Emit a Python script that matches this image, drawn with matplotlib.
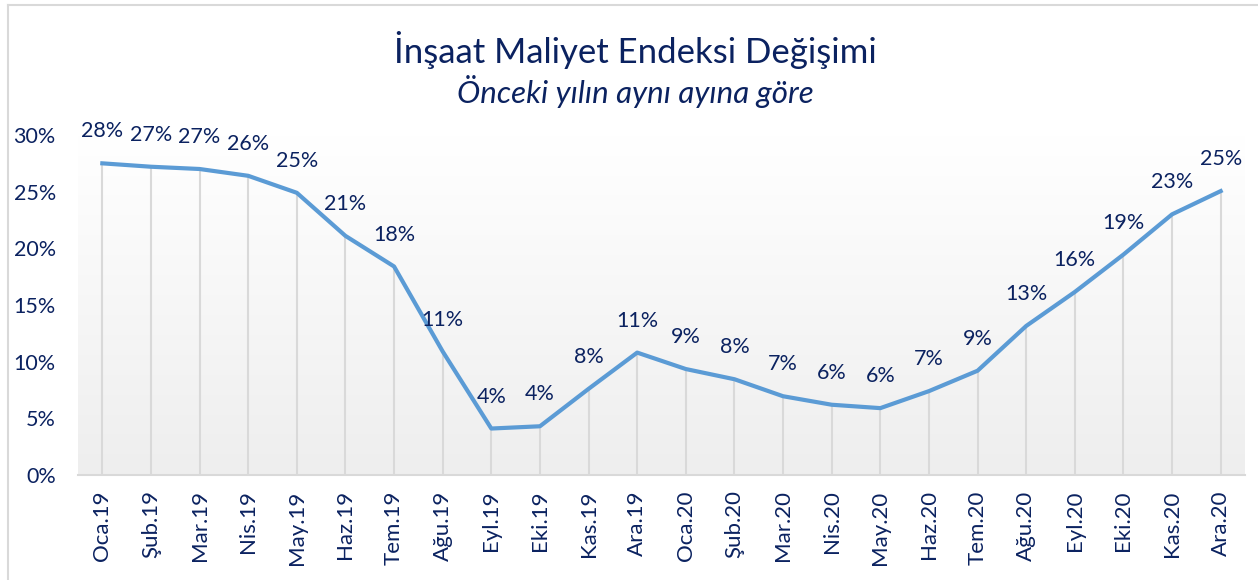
import numpy as np
import matplotlib
matplotlib.use('Agg')
import matplotlib.pyplot as plt
from matplotlib.lines import Line2D

months = ['Oca.19', 'Şub.19', 'Mar.19', 'Nis.19', 'May.19', 'Haz.19', 'Tem.19', 'Ağu.19',
          'Eyl.19', 'Eki.19', 'Kas.19', 'Ara.19', 'Oca.20', 'Şub.20', 'Mar.20', 'Nis.20',
          'May.20', 'Haz.20', 'Tem.20', 'Ağu.20', 'Eyl.20', 'Eki.20', 'Kas.20', 'Ara.20']
change = [27.5, 27.2, 27.0, 26.4, 24.9, 21.1, 18.4, 10.9,
          4.1, 4.3, 7.6, 10.8, 9.35, 8.45, 6.95, 6.2,
          5.9, 7.4, 9.2, 13.15, 16.15, 19.45, 23.0, 25.05]
yticks = [0, 5, 10, 15, 20, 25, 30]

navy = '#0b2260'
line_blue = '#5b9bd5'
grid_gray = '#d9d9d9'

plt.rcParams['font.family'] = ['Lato', 'DejaVu Sans']

fig = plt.figure(figsize=(12.58, 5.8), dpi=100)
ax = fig.add_axes([78 / 1258, 1 - 475 / 580, (1245 - 78) / 1258, (475 - 135) / 580])

x = np.arange(len(months))

# gradient background of the plot area
grad = np.linspace(0, 1, 256).reshape(-1, 1)
ax.imshow(grad, extent=(-0.5, len(months) - 0.5, 0, 30), aspect='auto', origin='upper',
          cmap=matplotlib.colors.LinearSegmentedColormap.from_list('g', ['#ffffff', '#eeeeee']),
          zorder=0)

ax.vlines(x, 0, change, color=grid_gray, lw=1.5, zorder=1)
ax.plot(x, change, color=line_blue, lw=3, solid_joinstyle='round', zorder=3)

for xi, v in zip(x, change):
    ax.annotate(f'{v:.0f}%', (xi, v), xytext=(0, 23), textcoords='offset points',
                ha='center', va='center', fontsize=15.5, color=navy,
                annotation_clip=False, zorder=4)

ax.set_xlim(-0.5, len(months) - 0.5)
ax.set_ylim(0, 30)
ax.set_yticks(yticks)
ax.set_yticklabels([f'{t}%' for t in yticks])
ax.set_xticks(x)
ax.set_xticklabels(months, rotation=90)
ax.tick_params(axis='y', length=0, pad=16, labelsize=15.5, labelcolor=navy)
ax.tick_params(axis='x', length=0, pad=11, labelsize=16, labelcolor=navy)

for s in ['top', 'right', 'left']:
    ax.spines[s].set_visible(False)
ax.spines['bottom'].set_color(grid_gray)
ax.spines['bottom'].set_linewidth(1.5)
ax.spines['bottom'].set_zorder(2)

fig.text(635 / 1258, 1 - 50 / 580, 'İnşaat Maliyet Endeksi Değişimi', ha='center', va='center',
         fontsize=25, color=navy)
fig.text(635 / 1258, 1 - 92 / 580, 'Önceki yılın aynı ayına göre', ha='center', va='center',
         fontsize=22.5, color=navy, style='italic')

# chart frame
fig.add_artist(Line2D([8 / 1258, 8 / 1258], [0, 1 - 5 / 580], color=grid_gray, lw=1.5,
                      transform=fig.transFigure))
fig.add_artist(Line2D([8 / 1258, 1], [1 - 5 / 580, 1 - 5 / 580], color=grid_gray, lw=1.5,
                      transform=fig.transFigure))

fig.savefig('out.png', dpi=100)
